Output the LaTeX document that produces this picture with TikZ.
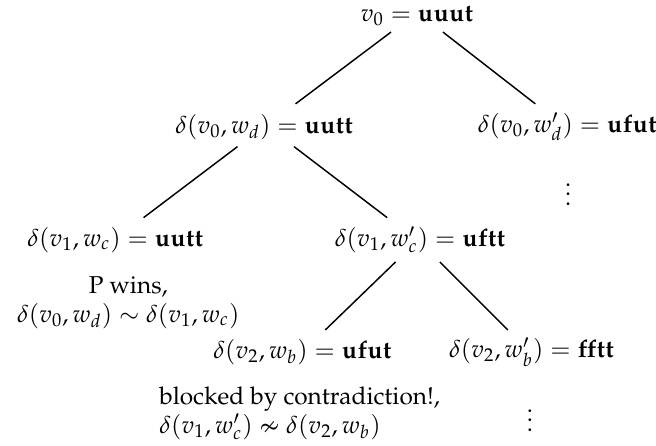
\documentclass[tikz,border=0pt]{standalone}
\usepackage[T1]{fontenc}
\usepackage{mathpazo}
\usepackage{amssymb}
\usepackage{tikz}
\usetikzlibrary{positioning}
\tikzset{
  play/.style  ={inner sep=0pt, align=center},
  remark/.style={inner sep=0pt, align=center},
  remarkl/.style={inner sep=0pt, align=left, anchor=west},
  branch/.style={line width=0.6pt, color=black},
  more/.style  ={inner sep=0pt},
}

\begin{document}
\begin{tikzpicture}[x=1.1cm, y=1.1cm]
  \useasboundingbox (0,0) rectangle (8.59,-5.84);
  \node[play] (root) at (5.46,-0.21) {$v_0 = \mathbf{uuut}$};
  \node[play] (d0) at (3.46,-1.66) {$\delta(v_0, w_d) = \mathbf{uutt}$};
  \node[play] (d0p) at (7.43,-1.66) {$\delta(v_0, w'_d) = \mathbf{ufut}$};
  \node[more] (dots1) at (7.44,-2.45) {$\vdots$};
  \node[play] (d1) at (1.51,-3.14) {$\delta(v_1, w_c) = \mathbf{uutt}$};
  \node[play] (d1p) at (5.50,-3.14) {$\delta(v_1, w'_c) = \mathbf{uftt}$};
  \node[remark] (win) at (1.68,-3.96) {P wins,\\ $\delta(v_0, w_d) \sim \delta(v_1, w_c)$};
  \node[play] (d2) at (3.96,-4.61) {$\delta(v_2, w_b) = \mathbf{ufut}$};
  \node[play] (d2p) at (6.96,-4.61) {$\delta(v_2, w'_b) = \mathbf{fftt}$};
  \node[remarkl] (block) at (2.08,-5.41) {blocked by contradiction!,\\ $\delta(v_1, w'_c) \nsim \delta(v_2, w_b)$};
  \node[more] (dots2) at (6.94,-5.41) {$\vdots$};
  % tree branches
  \draw[branch] ([shift={(-0.34,-0.21)}]root.center) -- ([shift={(0.41,0.30)}]d0.center);
  \draw[branch] ([shift={(0.34,-0.21)}]root.center) -- ([shift={(-0.42,0.30)}]d0p.center);
  \draw[branch] ([shift={(-0.35,-0.26)}]d0.center) -- ([shift={(0.37,0.29)}]d1.center);
  \draw[branch] ([shift={(0.39,-0.26)}]d0.center) -- ([shift={(-0.43,0.29)}]d1p.center);
  \draw[branch] ([shift={(-0.32,-0.29)}]d1p.center) -- ([shift={(0.30,0.29)}]d2.center);
  \draw[branch] ([shift={(0.26,-0.29)}]d1p.center) -- ([shift={(-0.31,0.29)}]d2p.center);
\end{tikzpicture}
\end{document}
